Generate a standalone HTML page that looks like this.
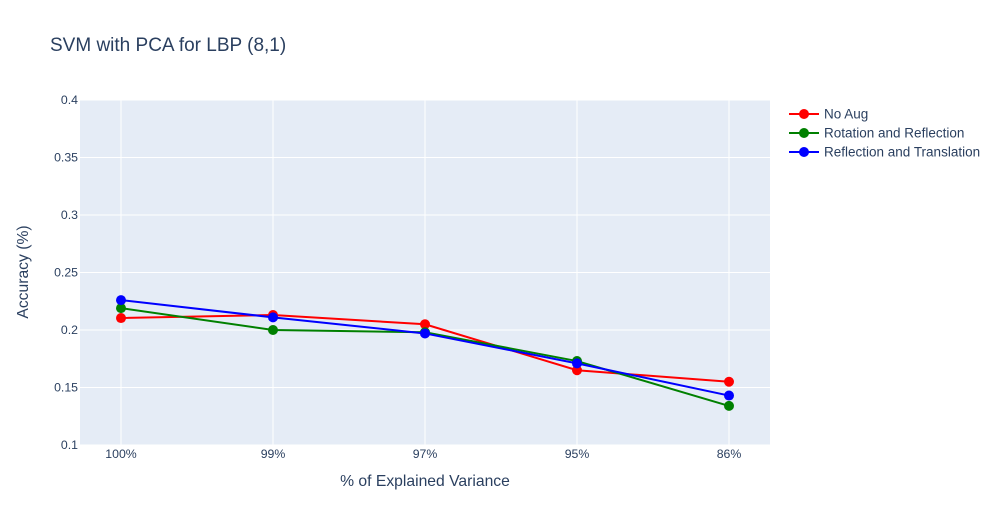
<!DOCTYPE html>
<html><head><meta charset="utf-8"><style>
body{margin:0;background:#fff;font-family:"Liberation Sans",sans-serif;}
svg text{font-family:"Liberation Sans",sans-serif;fill:#2a3f5f;}
</style></head><body>
<svg id="chart" width="997" height="525">
<rect x="0" y="0" width="997" height="525" fill="#fff"/>
<text x="50" y="51" font-size="19">SVM with PCA for LBP (8,1)</text>
<rect x="80" y="100" width="690" height="345" fill="#e5ecf6"/>
<g id="grid"></g><g id="series"></g><g id="axes"></g>
<text x="425" y="486" font-size="15.7" text-anchor="middle">% of Explained Variance</text>
<text transform="translate(28,272) rotate(-90)" font-size="15.7" text-anchor="middle">Accuracy (%)</text>
<g id="legend"></g>
</svg>
<script>
const categories=["100%","99%","97%","95%","86%"];
const noAug=[0.2104,0.213,0.205,0.165,0.155];
const rotRefl=[0.219,0.2,0.198,0.173,0.134];
const reflTrans=[0.226,0.211,0.197,0.171,0.143];
const yTicks=[0.1,0.15,0.2,0.25,0.3,0.35,0.4];
const yTickLabels=["0.1","0.15","0.2","0.25","0.3","0.35","0.4"];
const seriesNames=["No Aug","Rotation and Reflection","Reflection and Translation"];
const NS="http://www.w3.org/2000/svg";
function xs(i){return 121+i*152;}
function ys(v){return 445-(v-0.1)*1150;}
function mk(tag,attrs,parent){const e=document.createElementNS(NS,tag);for(const k in attrs)e.setAttribute(k,attrs[k]);parent.appendChild(e);return e;}
const grid=document.getElementById('grid'),axes=document.getElementById('axes'),ser=document.getElementById('series'),leg=document.getElementById('legend');
yTicks.forEach((t,i)=>{
 const l=mk('line',{x1:80,x2:770,y1:ys(t),y2:ys(t),stroke:'#fff','stroke-width':1},grid);
 
 
 const tx=mk('text',{x:78,y:ys(t)+4,'font-size':12.3,'text-anchor':'end'},axes);
 tx.textContent=yTickLabels[i];
 
 
});
categories.forEach((c,i)=>{
 const l=mk('line',{x1:xs(i),x2:xs(i),y1:100,y2:445,stroke:'#fff','stroke-width':1},grid);
 
 
 const tx=mk('text',{x:xs(i),y:458,'font-size':12.3,'text-anchor':'middle'},axes);
 tx.textContent=c;
 
 
});
const all=[[noAug,'red'],[rotRefl,'green'],[reflTrans,'blue']];
all.forEach(([d,col],si)=>{
 const g=mk('g',{},ser);
 
 
 const p=mk('polyline',{points:d.map((v,i)=>xs(i)+','+ys(v)).join(' '),fill:'none',stroke:col,'stroke-width':2},g);
 
 
 d.forEach((v,i)=>{
  const c=mk('circle',{cx:xs(i),cy:ys(v),r:5,fill:col},g);
  
  
 });
 const ly=114+si*19;
 const lg=mk('g',{},leg);
 
 
 mk('line',{x1:789,x2:819,y1:ly,y2:ly,stroke:col,'stroke-width':2},lg);
 mk('circle',{cx:804,cy:ly,r:5,fill:col},lg);
 const t=mk('text',{x:824,y:ly+4.5,'font-size':13.5},lg);
 t.textContent=seriesNames[si];
});
</script>
</body></html>
